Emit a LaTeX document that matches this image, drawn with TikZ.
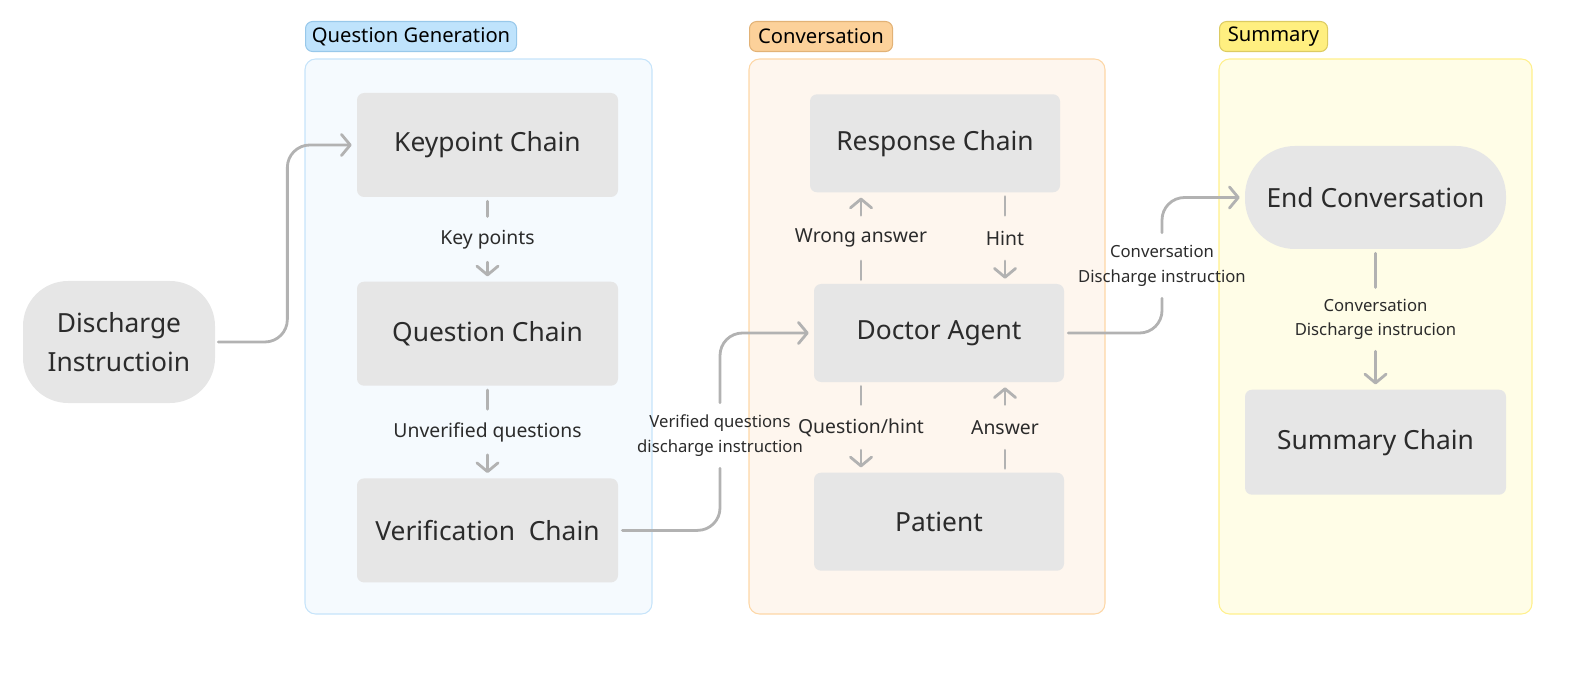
\documentclass[tikz,border=0pt]{standalone}
\usepackage{fontspec}
\setmainfont{Noto Sans}
\usetikzlibrary{arrows.meta, positioning, calc}

\definecolor{boxgray}{HTML}{E6E6E6}
\definecolor{txtgray}{HTML}{2B2B2B}
\definecolor{linegray}{HTML}{B2B2B2}
\definecolor{qgfill}{HTML}{F5FAFE}
\definecolor{qgline}{HTML}{C6E4FA}
\definecolor{qgtab}{HTML}{BFE3FC}
\definecolor{qgtabline}{HTML}{98C8EA}
\definecolor{convfill}{HTML}{FEF6EE}
\definecolor{convline}{HTML}{FDD7A6}
\definecolor{convtab}{HTML}{FCD19A}
\definecolor{convtabline}{HTML}{E2B276}
\definecolor{sumfill}{HTML}{FFFDE7}
\definecolor{sumline}{HTML}{FFF08C}
\definecolor{sumtab}{HTML}{FFEF80}
\definecolor{sumtabline}{HTML}{DCCB62}

\begin{document}
\begin{tikzpicture}[
    chainbox/.style={rectangle, fill=boxgray, text=txtgray, rounded corners=4pt, minimum width=5.22cm, minimum height=2.08cm, font=\fontsize{15}{18}\selectfont},
    pill/.style={chainbox, rounded corners=0.9cm, align=center, font=\fontsize{15}{22}\selectfont},
    lbl/.style={text=txtgray, align=center, inner sep=0pt, minimum height=0.9cm, font=\fontsize{9.5}{14.2}\selectfont},
    steplbl/.style={lbl, font=\fontsize{11}{13}\selectfont},
    panel/.style={rounded corners=6pt, line width=0.6pt},
    tabbox/.style={rounded corners=4pt, anchor=north west, minimum height=0.6cm, inner sep=0pt, line width=0.6pt, font=\fontsize{11.5}{13}\selectfont},
    conn/.style={draw=linegray, line width=1.6pt, line cap=round, shorten <=0.08cm},
    arrow/.style={draw=linegray, line width=1.6pt, line cap=round, -{Straight Barb[length=5pt, width=12pt, round]}, shorten >=0.1cm},
    node distance=1.7cm
]
\useasboundingbox (0,0) rectangle (31.56,-13.46);

% Panels
\draw[panel, draw=qgline, fill=qgfill] (6.10,-1.18) rectangle (13.04,-12.28);
\draw[panel, draw=convline, fill=convfill] (14.98,-1.18) rectangle (22.10,-12.28);
\draw[panel, draw=sumline, fill=sumfill] (24.38,-1.18) rectangle (30.64,-12.28);
\node[tabbox, draw=qgtabline, fill=qgtab, minimum width=4.22cm] (qgtab) at (6.10,-0.42) {Question Generation};
\node[tabbox, draw=convtabline, fill=convtab, minimum width=2.86cm] (convtab) at (14.98,-0.42) {Conversation};
\node[tabbox, draw=sumtabline, fill=sumtab, minimum width=2.16cm] (sumtab) at (24.38,-0.42) {Summary};

% Nodes
\node[pill, minimum width=3.84cm, minimum height=2.44cm] (disch) at (2.38,-6.84) {Discharge\\Instructioin};
\node[chainbox] (keyp) at (9.75,-2.90) {Keypoint Chain};
\node[chainbox, below=1.68cm of keyp] (quest) {Question Chain};
\node[chainbox, below=1.84cm of quest] (verif) {Verification\ \ Chain};
\node[chainbox, minimum width=5.0cm, minimum height=1.96cm] (doctor) at (18.78,-6.66) {Doctor Agent};
\node[chainbox, minimum width=5.0cm, minimum height=1.96cm, above=1.82cm of doctor, xshift=-0.08cm] (resp) {Response Chain};
\node[chainbox, minimum width=5.0cm, minimum height=1.96cm, below=1.80cm of doctor] (patient) {Patient};
\node[pill, minimum height=2.06cm, rounded corners=1cm] (endc) at (27.51,-3.95) {End Conversation};
\node[chainbox, minimum height=2.10cm, below=2.80cm of endc] (summ) {Summary Chain};

% Labels
\node[steplbl] (kplab) at ($(keyp.south)!0.5!(quest.north)$) {Key points};
\node[steplbl] (uvlab) at ($(quest.south)!0.5!(verif.north)$) {Unverified questions};
\node[lbl, minimum height=1.3cm] (vlab) at (14.40,-8.71) {Verified questions\\discharge instruction};
\node[steplbl] (wrong) at ($(resp.south)!0.5!(doctor.north)+(-1.52,0)$) {Wrong answer};
\node[steplbl] (hint) at ($(resp.south)!0.5!(doctor.north)+(1.36,0)$) {Hint};
\node[steplbl] (qhint) at ($(doctor.south)!0.5!(patient.north)+(-1.56,0)$) {Question/hint};
\node[steplbl] (answer) at ($(doctor.south)!0.5!(patient.north)+(1.32,0)$) {Answer};
\node[lbl, minimum height=1.3cm] (clab) at (23.24,-5.31) {Conversation\\Discharge instruction};
\node[lbl, minimum height=1.26cm] (slab) at ($(endc.south)!0.5!(summ.north)$) {Conversation\\Discharge instrucion};

% Arrows
\draw[arrow, shorten <=0.06cm, rounded corners=0.45cm] (disch.east) -- ++(1.44,0) |- (keyp.west);
\draw[conn] (keyp.south) -- (kplab.north);
\draw[arrow] (kplab.south) -- (quest.north);
\draw[conn] (quest.south) -- (uvlab.north);
\draw[arrow] (uvlab.south) -- (verif.north);
\draw[conn, rounded corners=0.45cm] (verif.east) -| (vlab.south);
\draw[arrow, rounded corners=0.45cm] (vlab.north) |- (doctor.west);
\draw[conn] (doctor.north -| wrong) -- (wrong.south);
\draw[arrow] (wrong.north) -- (resp.south -| wrong);
\draw[conn] (resp.south -| hint) -- (hint.north);
\draw[arrow] (hint.south) -- (doctor.north -| hint);
\draw[conn] (doctor.south -| qhint) -- (qhint.north);
\draw[arrow] (qhint.south) -- (patient.north -| qhint);
\draw[conn] (patient.north -| answer) -- (answer.south);
\draw[arrow] (answer.north) -- (doctor.south -| answer);
\draw[conn, rounded corners=0.45cm] (doctor.east) -| (clab.south);
\draw[arrow, rounded corners=0.45cm] (clab.north) |- (endc.west);
\draw[conn] (endc.south) -- (slab.north);
\draw[arrow] (slab.south) -- (summ.north);
\end{tikzpicture}
\end{document}
